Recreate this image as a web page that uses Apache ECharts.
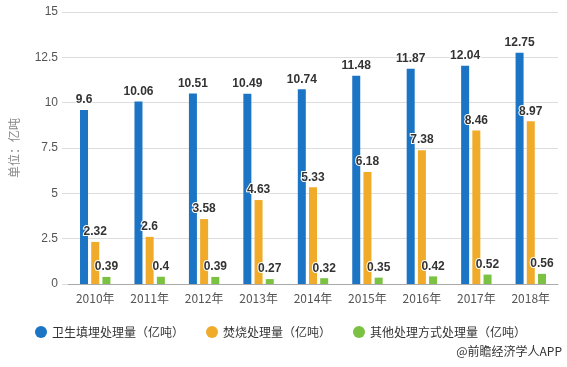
<!DOCTYPE html>
<html>
<head>
<meta charset="utf-8">
<script src="https://cdn.jsdelivr.net/npm/echarts@6/dist/echarts.min.js"></script>
<style>html,body{margin:0;padding:0;background:#fff;}#c{width:567px;height:367px;}</style>
</head>
<body>
<div id="c"></div>
<script>
var categories = ['2010年','2011年','2012年','2013年','2014年','2015年','2016年','2017年','2018年'];
var landfill = [9.6, 10.06, 10.51, 10.49, 10.74, 11.48, 11.87, 12.04, 12.75];
var incineration = [2.32, 2.6, 3.58, 4.63, 5.33, 6.18, 7.38, 8.46, 8.97];
var other = [0.39, 0.4, 0.39, 0.27, 0.32, 0.35, 0.42, 0.52, 0.56];
var seriesNames = ['卫生填埋处理量（亿吨）', '焚烧处理量（亿吨）', '其他处理方式处理量（亿吨）'];
var yTicks = {min: 0, max: 15, interval: 2.5};

var FONT = '"Noto Sans CJK SC", "Microsoft YaHei", sans-serif';
var chart = echarts.init(document.getElementById('c'));
var labelStyle = {
  show: true, position: 'top', distance: 4,
  color: '#333', fontWeight: 'bold', fontSize: 12, fontFamily: 'Arial, "Liberation Sans", sans-serif',
  textBorderColor: '#fff', textBorderWidth: 2
};
function mk(name, data, color) {
  return {
    name: name, type: 'bar', data: data, barWidth: 8, barGap: '40%',
    itemStyle: {color: color}, label: labelStyle
  };
}
chart.setOption({
  animation: false,
  textStyle: {fontFamily: FONT},
  grid: {left: 64, right: 9, top: 12, bottom: 83},
  legend: {
    left: 30, top: 321, itemGap: 22, itemWidth: 12, itemHeight: 12, icon: 'circle',
    textStyle: {color: '#333', fontSize: 12, fontFamily: FONT},
    data: seriesNames
  },
  xAxis: {
    type: 'category', data: categories,
    axisLine: {lineStyle: {color: '#aaa'}},
    axisTick: {alignWithLabel: true, length: 5, lineStyle: {color: '#aaa'}},
    axisLabel: {color: '#555', fontSize: 12, margin: 8, fontFamily: FONT}
  },
  yAxis: {
    type: 'value', min: yTicks.min, max: yTicks.max, interval: yTicks.interval,
    name: '单位：亿吨', nameLocation: 'middle', nameGap: 48, nameRotate: 90,
    nameTextStyle: {color: '#888', fontSize: 12, fontFamily: FONT},
    axisLine: {show: false},
    axisTick: {show: true, length: 6, lineStyle: {color: '#ddd'}},
    axisLabel: {color: '#555', fontSize: 12, margin: 10, fontFamily: 'Arial, "Liberation Sans", sans-serif'},
    splitLine: {lineStyle: {color: '#ddd'}}
  },
  graphic: [{
    type: 'text', right: 5, top: 345,
    style: {text: '@前瞻经济学人APP', fill: '#333', font: '12px ' + FONT}
  }],
  series: [
    mk(seriesNames[0], landfill, '#1b74c4'),
    mk(seriesNames[1], incineration, '#f0ab2b'),
    mk(seriesNames[2], other, '#7bc142')
  ]
});
</script>
</body>
</html>
